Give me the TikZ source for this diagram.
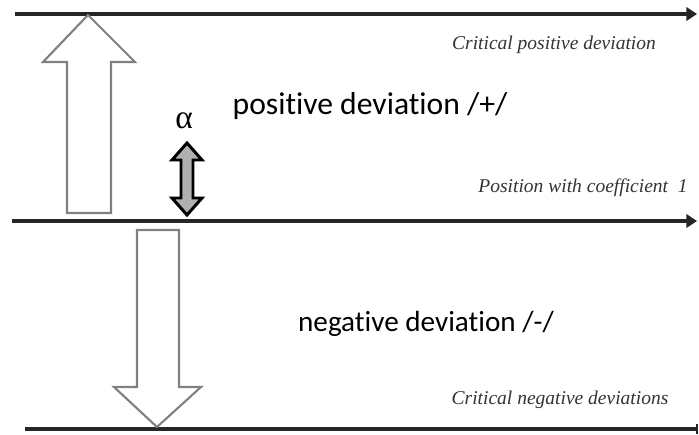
\documentclass[tikz,border=0pt]{standalone}
\usepackage{fontspec}
\setmainfont{Liberation Serif}
\newfontfamily\labelsans[Ligatures={NoCommon}]{Carlito}
\usetikzlibrary{arrows.meta}
\definecolor{lineblack}{HTML}{262626}
\definecolor{arrowgray}{HTML}{808080}
\definecolor{alphagray}{HTML}{B0B0B0}
\tikzset{
	levelline/.style={line width=2pt, lineblack},
	levelarrow/.style={levelline, -{Triangle[length=6pt, width=7.5pt]}},
	bigarrow/.style={line width=1.2pt, draw=arrowgray, fill=white},
	alphaarrow/.style={line width=1.7pt, draw=black, fill=alphagray},
	levellabel/.style={font=\fontsize{11.1}{13}\selectfont\itshape, text=black!80},
	zonelabel/.style={font=\labelsans\fontsize{18}{21}\selectfont}
}
\begin{document}
\begin{tikzpicture}[x=0.02cm, y=-0.02cm]
	\useasboundingbox (0,0) rectangle (699,435);
	% Niveles
	\coordinate (topstart) at (15,14);
	\coordinate (topend) at (697,14);
	\coordinate (midstart) at (12,221);
	\coordinate (midend) at (697,221);
	\coordinate (lowstart) at (25,429);
	\coordinate (lowend) at (697,429);
	\draw [levelarrow] (topstart) -- (topend);
	\draw [levelarrow] (midstart) -- (midend);
	\draw [levelline] (lowstart) -- (lowend);
	\draw [line width=1.1pt, lineblack] (697,424) -- (697,434);
	
	% Flechas grandes
	\draw [bigarrow] (67,213) -- (67,62) -- (43,62) -- (88,15) -- (135,62) -- (111,62) -- (111,213) -- cycle;
	\draw [bigarrow] (137,230) -- (137,387) -- (114,387) -- (157,427) -- (201,387) -- (179,387) -- (179,230) -- cycle;
	
	% Coeficiente alfa
	\draw [alphaarrow] (187,143) -- (202,160) -- (193,160) -- (193,198) -- (202,198) -- (187,215) -- (172,198) -- (181,198) -- (181,160) -- (172,160) -- cycle;
	\node (alpha) at (184,121) {\fontsize{19}{22}\selectfont α};
	
	% Textos
	\node [zonelabel] (positive) at (370,106) {positive deviation /+/};
	\node [zonelabel, font=\labelsans\fontsize{16.6}{20}\selectfont] (negative) at (426,324) {negative deviation /-/};
	\node [levellabel] (critpos) at (554,45) {Critical positive deviation};
	\node [levellabel] (coeff) at (583,188) {Position with coefficient\ \ 1};
	\node [levellabel] (critneg) at (560,400) {Critical negative deviations};
\end{tikzpicture}
\end{document}
